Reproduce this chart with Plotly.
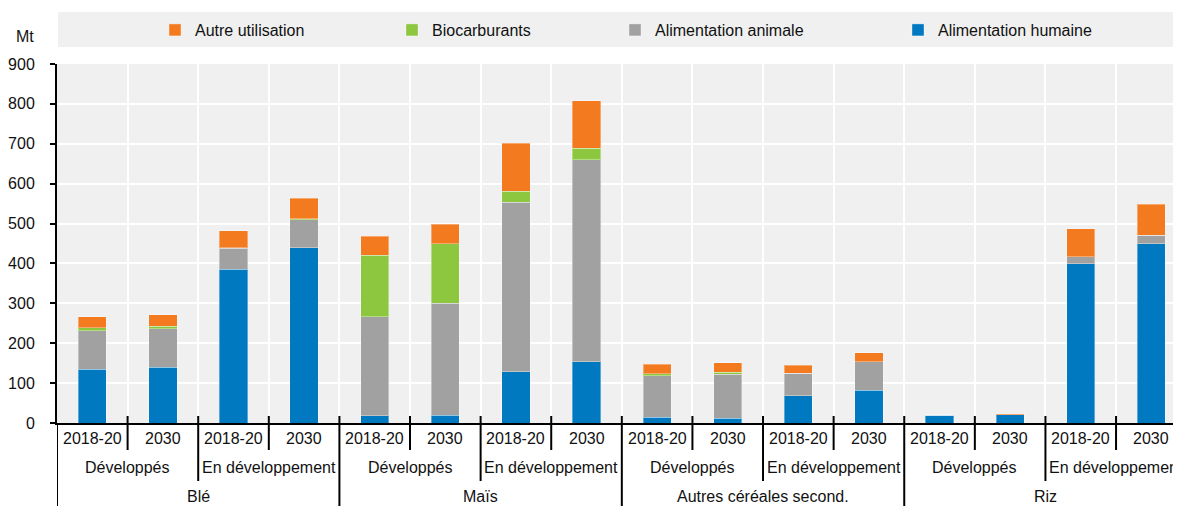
import plotly.graph_objects as go

# ---- data ----
crops = ["Blé", "Maïs", "Autres céréales second.", "Riz"]
groups = ["Développés", "En développement"]
periods = ["2018-20", "2030"]

humaine = [135, 140, 385, 439, 18, 20, 129, 153, 14, 12, 68, 82, 20, 21, 399, 449]
animale = [96, 96, 53, 70, 248, 280, 424, 507, 105, 110, 57, 71, 0, 0, 18, 22]
biocarb = [8, 7, 1, 3, 155, 150, 28, 29, 5, 5, 0, 1, 0, 0, 0, 0]
autre = [27, 29, 43, 51, 47, 48, 120, 119, 23, 24, 20, 22, 1, 1, 70, 77]

series_names = ["Alimentation humaine", "Alimentation animale", "Biocarburants", "Autre utilisation"]
series_values = [humaine, animale, biocarb, autre]
colors = ["#0179C0", "#A1A1A1", "#8DC63F", "#F47A20"]
legend_ids = ["legend4", "legend3", "legend2", "legend"]
legend_text_px = [928, 645, 422, 185]   # where each legend label starts (window px)

n = len(humaine)
xs = list(range(n))

FONT = "Liberation Sans, Arial, sans-serif"
TXT = "#111"

# page body has an 8px margin: figure is sized/offset to compensate
OFF = 8
PLOT_L, PLOT_T, PLOT_B, PLOT_R = 57, 64, 423, 1181
W_PLOT = PLOT_R - PLOT_L
H_PLOT = float(PLOT_B - PLOT_T)


def py(px):
    return (PLOT_B - px) / H_PLOT


def pxx(px):
    return (px - PLOT_L) / W_PLOT


fig = go.Figure()
for name, vals, col, lid in zip(series_names, series_values, colors, legend_ids):
    fig.add_trace(go.Bar(
        x=xs, y=vals, name=name, width=0.4,
        marker=dict(color=col, line=dict(color="rgba(255,255,255,0.35)", width=1)),
        legend=lid, hovertemplate="%{y} Mt<extra>" + name + "</extra>",
    ))

# legend band
fig.add_shape(type="rect", xref="paper", yref="paper", x0=pxx(58), x1=pxx(1175),
              y0=py(47), y1=py(12), fillcolor="#F0F0F0", line=dict(width=0), layer="below")

legends = {}
for lid, tx in zip(legend_ids, legend_text_px):
    legends[lid] = dict(x=pxx(tx - 30), y=py(30), xanchor="left", yanchor="middle",
                        bgcolor="rgba(0,0,0,0)", borderwidth=0,
                        font=dict(family=FONT, size=16, color=TXT),
                        orientation="h", itemwidth=30)

# "Mt" label
annotations = [dict(text="Mt", xref="paper", yref="paper", x=pxx(25), y=py(36),
                    showarrow=False, font=dict(family=FONT, size=16, color=TXT),
                    xanchor="center", yanchor="middle")]

# multi-level category labels
for i in range(n):
    annotations.append(dict(text=periods[i % 2], x=i, y=py(438), xref="x", yref="paper",
                            showarrow=False, yanchor="middle",
                            font=dict(family=FONT, size=16, color=TXT)))
for g in range(n // 2):
    annotations.append(dict(text=groups[g % 2], x=2 * g + 0.5, y=py(468), xref="x", yref="paper",
                            showarrow=False, yanchor="middle",
                            font=dict(family=FONT, size=16, color=TXT)))
for c in range(len(crops)):
    annotations.append(dict(text=crops[c], x=4 * c + 1.5, y=py(496), xref="x", yref="paper",
                            showarrow=False, yanchor="middle",
                            font=dict(family=FONT, size=16, color=TXT)))

for b in range(n + 1):
    xb = b - 0.5
    if b % 4 == 0:
        y1 = -0.3
    elif b % 2 == 0:
        y1 = py(481)
    else:
        y1 = py(450)
    y0 = py(416) if b > 0 else 0
    fig.add_shape(type="line", xref="x", yref="paper", x0=xb, x1=xb, y0=y0, y1=y1,
                  line=dict(color="black", width=2))

fig.update_layout(
    width=1181 - OFF, height=506 - OFF,
    margin=dict(l=PLOT_L - OFF, r=0, t=PLOT_T - OFF, b=506 - PLOT_B, autoexpand=False),
    barmode="stack",
    plot_bgcolor="#F0F0F0", paper_bgcolor="white",
    font=dict(family=FONT, size=16, color=TXT),
    showlegend=True,
    annotations=annotations,
    **legends,
)
fig.update_xaxes(range=[-0.5, 15.42], tickvals=[b - 0.5 for b in range(n + 1)],
                 showticklabels=False, ticks="", showgrid=True, gridcolor="white", gridwidth=2,
                 showline=True, linecolor="black", linewidth=2, zeroline=False, fixedrange=True)
fig.update_yaxes(range=[0, 900], dtick=100, showgrid=True, gridcolor="white", gridwidth=2,
                 showline=True, linecolor="black", linewidth=2, ticks="outside", ticklen=5,
                 tickcolor="black", tickwidth=2, ticklabelstandoff=12, zeroline=False,
                 tickfont=dict(family=FONT, size=16, color=TXT), fixedrange=True)

fig.write_html("out.html", config={"displayModeBar": False})
